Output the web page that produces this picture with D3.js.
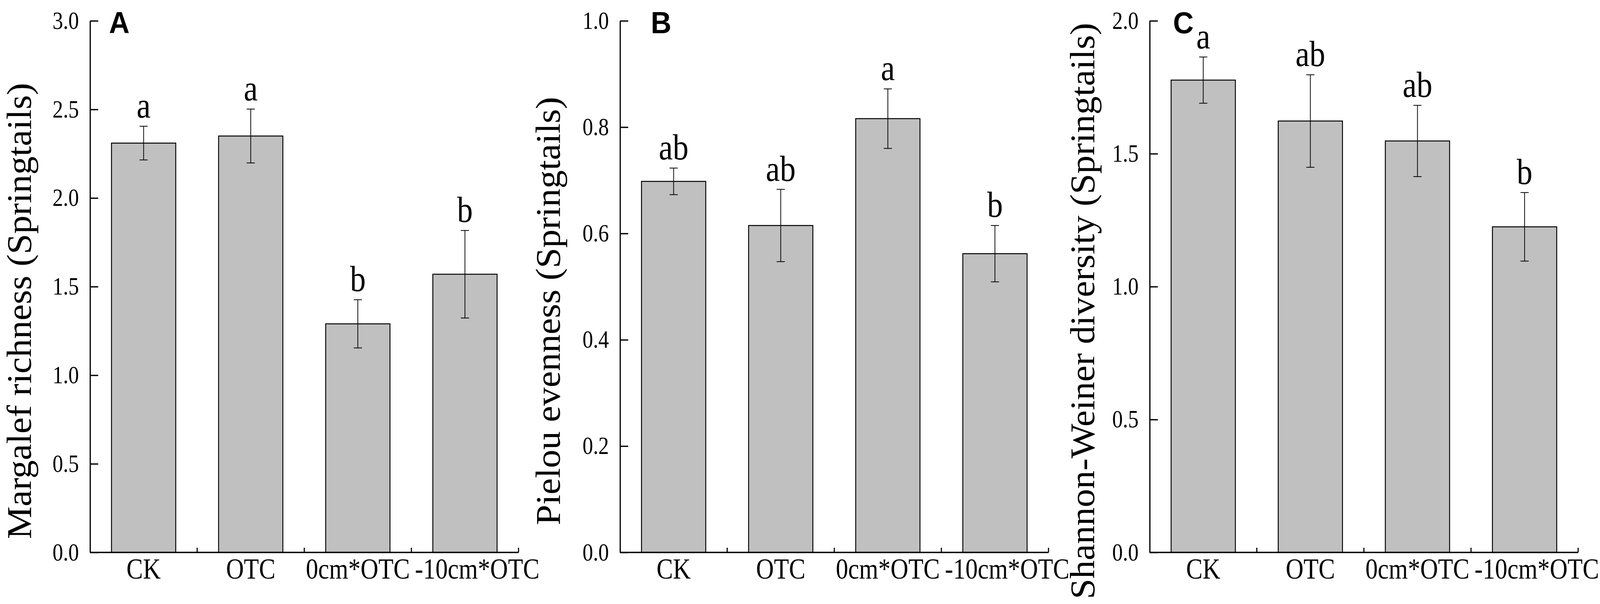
<!DOCTYPE html>
<html>
<head>
<script src="https://d3js.org/d3.v7.min.js"></script>
<style>
html, body {margin:0; padding:0; background:#fff; overflow:hidden;}
#chart {display:block; width:100vw; height:100vh;}
text {font-family:'Liberation Serif','Times New Roman',serif; fill:#000;}
</style>
</head>
<body>
<svg id="chart" viewBox="0 0 4317 1546" preserveAspectRatio="none"></svg>
<script>
// categories shared by all three panels
const categories = ['CK', 'OTC', '0cm*OTC', '-10cm*OTC'];

// A: Margalef richness
const margalef = [2.31, 2.35, 1.29, 1.57];
const margalefErr = [0.095, 0.152, 0.136, 0.247];
const margalefLetters = ['a', 'a', 'b', 'b'];
const margalefTicks = [0, 0.5, 1.0, 1.5, 2.0, 2.5, 3.0];

// B: Pielou evenness
const pielou = [0.698, 0.615, 0.816, 0.562];
const pielouErr = [0.025, 0.068, 0.056, 0.053];
const pielouLetters = ['ab', 'ab', 'a', 'b'];
const pielouTicks = [0, 0.2, 0.4, 0.6, 0.8, 1.0];

// C: Shannon-Weiner diversity
const shannon = [1.777, 1.623, 1.548, 1.225];
const shannonErr = [0.087, 0.174, 0.134, 0.129];
const shannonLetters = ['a', 'ab', 'ab', 'b'];
const shannonTicks = [0, 0.5, 1.0, 1.5, 2.0];

const panels = [
  {tag: 'A', title: 'Margalef richness (Springtails)', values: margalef, errors: margalefErr,
   letters: margalefLetters, ticks: margalefTicks, left: 243, titleGap: 160, tagX: 51},
  {tag: 'B', title: 'Pielou evenness (Springtails)', values: pielou, errors: pielouErr,
   letters: pielouLetters, ticks: pielouTicks, left: 1673, titleGap: 163, tagX: 83},
  {tag: 'C', title: 'Shannon-Weiner diversity (Springtails)', values: shannon, errors: shannonErr,
   letters: shannonLetters, ticks: shannonTicks, left: 3102, titleGap: 150, tagX: 63}
];

const plotW = 1156, yTop = 53.3, yBottom = 1414;
const stretch = 1.1;     // serif glyphs in the figure are a bit taller than normal
const lastLabelNudge = 33; // the long last label sits right of its band centre
const svg = d3.select('#chart');

panels.forEach(function(p) {
  const g = svg.append('g').attr('transform', 'translate(' + p.left + ',0)');
  const x = d3.scaleBand().domain(categories).range([0, plotW]).paddingInner(0.4).paddingOuter(0.2);
  const y = d3.scaleLinear().domain([0, d3.max(p.ticks)]).range([yBottom, yTop]);
  const bw = x.bandwidth();
  const rows = categories.map(function(c, i) {
    return {cat: c, v: p.values[i], e: p.errors[i], letter: p.letters[i]};
  });

  // bars
  g.selectAll('rect.bar').data(rows).enter().append('rect')
    .attr('class', 'bar')
    .attr('x', d => x(d.cat))
    .attr('y', d => y(d.v))
    .attr('width', bw)
    .attr('height', d => y(0) - y(d.v))
    .attr('fill', '#c0c0c0')
    .attr('stroke', '#000')
    .attr('stroke-width', 2.5);

  // error bars
  const eb = g.selectAll('g.err').data(rows).enter().append('g').attr('class', 'err')
    .attr('stroke', '#000').attr('stroke-width', 2);
  eb.append('line')
    .attr('x1', d => x(d.cat) + bw / 2).attr('x2', d => x(d.cat) + bw / 2)
    .attr('y1', d => y(d.v - d.e)).attr('y2', d => y(d.v + d.e));
  eb.append('line')
    .attr('x1', d => x(d.cat) + bw / 2 - 11).attr('x2', d => x(d.cat) + bw / 2 + 11)
    .attr('y1', d => y(d.v + d.e)).attr('y2', d => y(d.v + d.e));
  eb.append('line')
    .attr('x1', d => x(d.cat) + bw / 2 - 11).attr('x2', d => x(d.cat) + bw / 2 + 11)
    .attr('y1', d => y(d.v - d.e)).attr('y2', d => y(d.v - d.e));

  // significance letters
  g.selectAll('text.sig').data(rows).enter().append('text')
    .attr('class', 'sig')
    .attr('transform', d => 'translate(' + (x(d.cat) + bw / 2) + ',' + (y(d.v + d.e) - 22) + ') scale(1,' + stretch + ')')
    .attr('text-anchor', 'middle')
    .style('font-size', '85px')
    .text(d => d.letter);

  // y axis, ticks inside
  const ya = g.append('g')
    .call(d3.axisLeft(y).tickValues(p.ticks).tickFormat(d3.format('.1f'))
      .tickSizeInner(-22).tickSizeOuter(0).tickPadding(30));
  ya.select('.domain').attr('stroke-width', 3.3);
  ya.selectAll('.tick line').attr('stroke-width', 3.3);
  ya.selectAll('.tick text')
    .attr('font-family', null)
    .style('font-size', '57px')
    .attr('transform', 'scale(1,' + stretch + ')');

  // x axis line with ticks on category boundaries
  g.append('line')
    .attr('x1', 0).attr('x2', plotW)
    .attr('y1', y(0)).attr('y2', y(0))
    .attr('stroke', '#000').attr('stroke-width', 3.3);
  g.selectAll('line.xtick').data(categories).enter().append('line')
    .attr('class', 'xtick')
    .attr('x1', d => x(d) + bw / 2 + x.step() / 2).attr('x2', d => x(d) + bw / 2 + x.step() / 2)
    .attr('y1', y(0)).attr('y2', y(0) - 12)
    .attr('stroke', '#000').attr('stroke-width', 3);
  g.selectAll('text.xlab').data(categories).enter().append('text')
    .attr('class', 'xlab')
    .attr('transform', (d, i) => 'translate(' + (x(d) + bw / 2 + (i === categories.length - 1 ? lastLabelNudge : 0)) +
      ',' + (y(0) + 67) + ') scale(1,' + stretch + ')')
    .attr('text-anchor', 'middle')
    .style('font-size', '66.5px')
    .text(d => d);

  // y title
  g.append('text')
    .attr('transform', 'translate(' + (-p.titleGap) + ',796) rotate(-90)')
    .attr('text-anchor', 'middle')
    .style('font-size', '94px')
    .text(p.title);

  // panel tag
  g.append('text')
    .attr('x', p.tagX).attr('y', 85)
    .style('font-family', "'Liberation Sans', Arial, sans-serif")
    .style('font-weight', 'bold')
    .style('font-size', '77px')
    .text(p.tag);
});
</script>
</body>
</html>
